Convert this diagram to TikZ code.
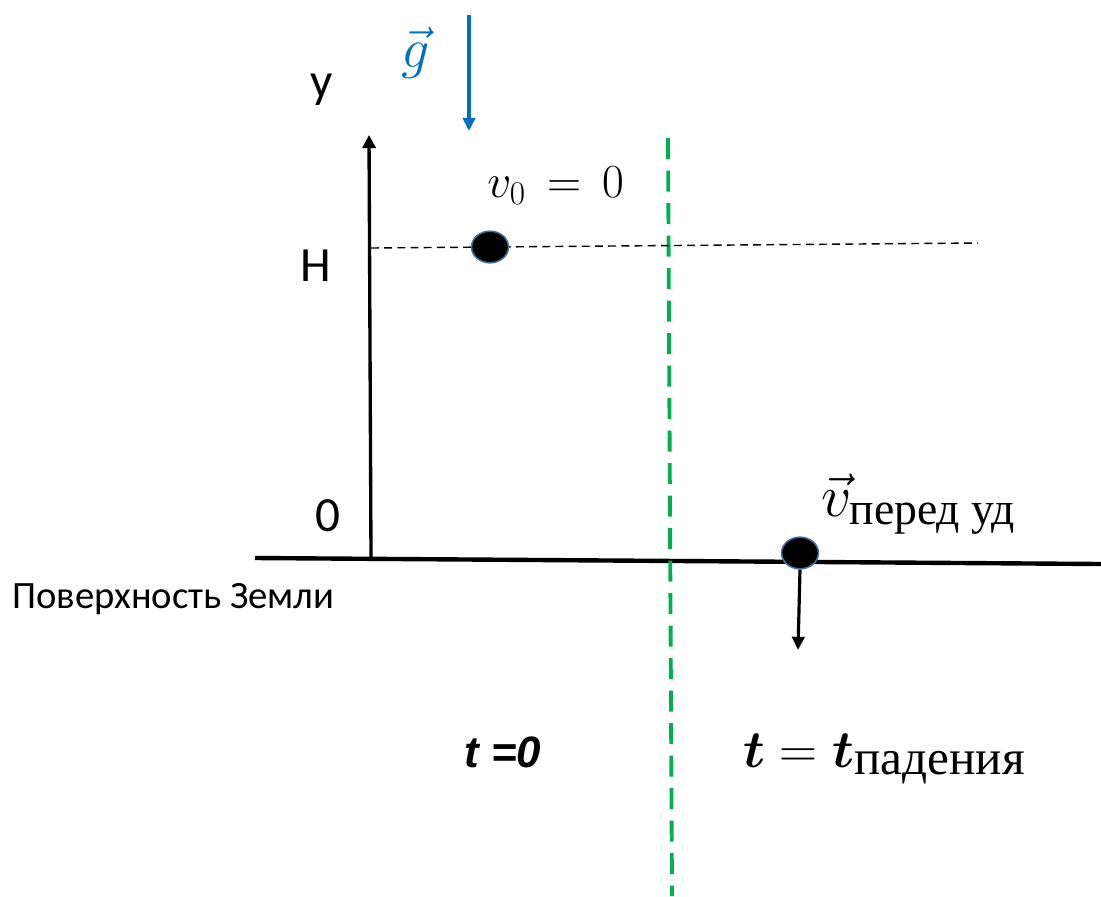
\RequirePackage{fix-cm}
\documentclass[tikz,border=0pt]{standalone}
\usepackage{amsmath,amssymb}
\usepackage[no-math]{fontspec}
\setmainfont{Carlito}
\newfontfamily\cyrserif{Liberation Serif}
\newfontfamily\boldsans{Liberation Sans}
\usepackage{tikz}
\usetikzlibrary{positioning,arrows.meta,shapes.geometric}
\definecolor{gblue}{HTML}{0070C0}
\definecolor{sepgreen}{HTML}{00B050}
\definecolor{rimblue}{HTML}{41719C}
\newcommand{\subcyr}[2]{\text{\fontsize{#1}{#1}\selectfont\cyrserif #2}}

\begin{document}
\begin{tikzpicture}[
  x=0.02cm,y=-0.02cm,
  ball/.style={ellipse,draw=rimblue,fill=black,line width=0.9pt,minimum width=21pt,minimum height=18pt,inner sep=0pt},
  lbl/.style={inner sep=0pt,font=\fontsize{28}{32}\selectfont},
  axis/.style={-{Triangle[length=7.5pt,width=7.5pt]},line width=1.9pt},
  arr/.style={-{Triangle[length=7.5pt,width=7pt]},line width=1.8pt},
  garr/.style={-{Triangle[length=7.5pt,width=7pt]},line width=1.9pt,color=gblue},
  ground/.style={line width=2.5pt},
  level/.style={line width=0.8pt,dash pattern=on 4.5pt off 3pt},
  sep/.style={line width=2.2pt,color=sepgreen,dash pattern=on 12pt off 6.5pt}
]
  \useasboundingbox (0,0) rectangle (1101,896);
  % ground and axis
  \coordinate (gl) at (255,558);
  \coordinate (gr) at (1101,564);
  \draw[ground] (gl)--(gr);
  \coordinate (ybot) at (371,557);
  \coordinate (ytop) at (369,135);
  \draw[axis] (ybot)--(ytop);
  % green separator
  \coordinate (sept) at (668,138);
  \coordinate (sepb) at (672,896);
  \draw[sep] (sept)--(sepb);
  % level H
  \coordinate (hl) at (371,248);
  \coordinate (hr) at (978,243);
  \draw[level] (hl)--(hr);
  \node[ball] (b0) at (490,247) {};
  \node[ball] (b1) at (800,553) {};
  % velocity and gravity
  \coordinate (vend) at (798,650);
  \draw[arr] (b1.south)--(vend);
  \coordinate (gtop) at (469,15);
  \coordinate (gbot) at (469,131);
  \draw[garr] (gtop)--(gbot);
  % labels
  \node[lbl,anchor=base] (ylab) at (322,97) {y};
  \node[lbl,anchor=base] (hlab) at (316,281) {H};
  \node[lbl,anchor=base] (zlab) at (328,531) {0};
  \node[inner sep=0pt,anchor=base west,font=\fontsize{22}{26}\selectfont] (surf) at (12,608) {Поверхность Земли};
  \node[inner sep=0pt,anchor=base west,font=\fontsize{27}{31}\selectfont] (v0lab) at (487,197) {$v_{\scriptstyle 0} \,=\, 0$};
  \node[inner sep=0pt,anchor=base,text=gblue,font=\fontsize{32}{36}\selectfont] (glab) at (416,67) {$\vec{g}$};
  \node[inner sep=0pt,anchor=base west,font=\fontsize{34}{38}\selectfont] (vlab) at (821,516) {$\vec{v}_{\subcyr{26}{перед уд}}$};
  \node[inner sep=0pt,anchor=base west,font=\fontsize{25}{28}\selectfont\boldsans\bfseries\itshape] (t0lab) at (464,767) {t =0};
  \node[inner sep=0pt,anchor=base west,font=\fontsize{30}{34}\selectfont] (tflab) at (743,767) {$\boldsymbol{t} = \boldsymbol{t}_{\subcyr{28}{падения}}$};
\end{tikzpicture}
\end{document}
